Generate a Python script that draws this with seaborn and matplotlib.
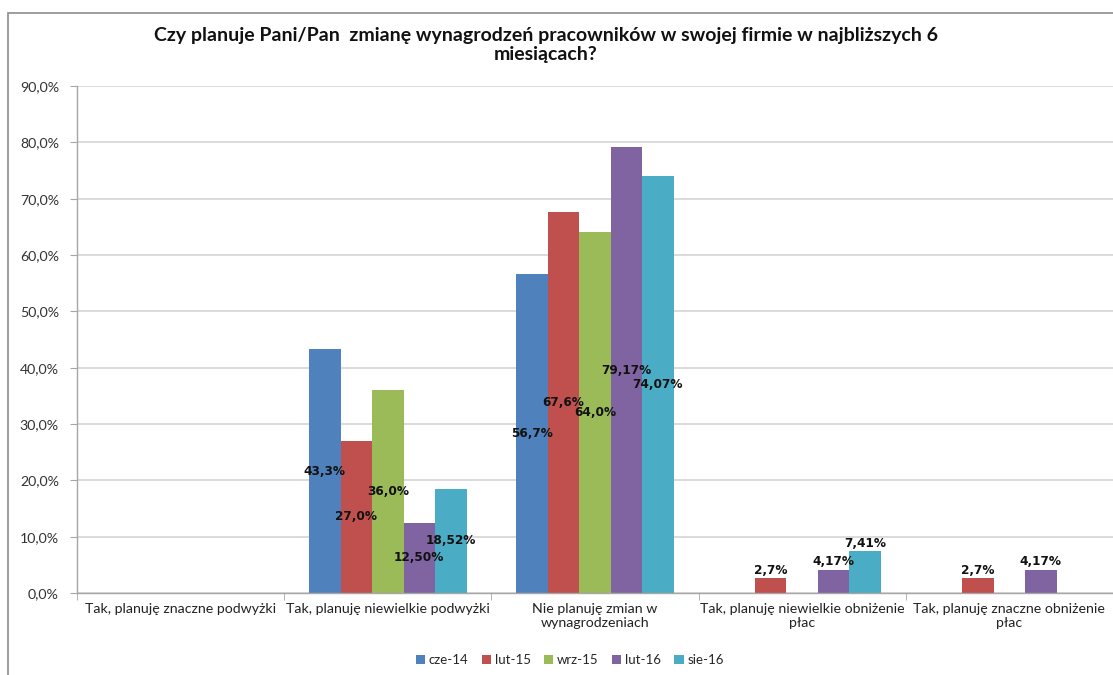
import pandas as pd
import numpy as np
import matplotlib.pyplot as plt
import seaborn as sns
from matplotlib.patches import Rectangle

# dane z wykresu (w %)
kategorie = ["Tak, planuję znaczne podwyżki",
             "Tak, planuję niewielkie podwyżki",
             "Nie planuję zmian w\nwynagrodzeniach",
             "Tak, planuję niewielkie obniżenie\npłac",
             "Tak, planuję znaczne obniżenie\npłac"]
okresy = ["cze-14", "lut-15", "wrz-15", "lut-16", "sie-16"]
cze_14 = [0, 43.3, 56.7, 0, 0]
lut_15 = [0, 27.0, 67.6, 2.7, 2.7]
wrz_15 = [0, 36.0, 64.0, 0, 0]
lut_16 = [0, 12.50, 79.17, 4.17, 4.17]
sie_16 = [0, 18.52, 74.07, 7.41, 0]
miejsca_dziesietne = [1, 1, 1, 2, 2]
kolory = ["#4F81BD", "#C0504D", "#9BBB59", "#8064A2", "#4BACC6"]

tytul = ("Czy planuje Pani/Pan  zmianę wynagrodzeń pracowników w swojej firmie w najbliższych 6\n"
         "miesiącach?")

df = pd.DataFrame({
    "Kategoria": kategorie * len(okresy),
    "Okres": np.repeat(okresy, len(kategorie)),
    "Wartosc": cze_14 + lut_15 + wrz_15 + lut_16 + sie_16,
})

sns.set_style("white")
plt.rcParams['font.family'] = ['Lato', 'DejaVu Sans']

fig = plt.figure(figsize=(11.13, 6.75), dpi=100)
ax = fig.add_axes([77 / 1113, 1 - 593 / 675, 1 - 77 / 1113, (593 - 86) / 675])

sns.barplot(data=df, x="Kategoria", y="Wartosc", hue="Okres", order=kategorie,
            hue_order=okresy, palette=kolory, width=0.76, saturation=1,
            linewidth=0, errorbar=None, ax=ax)

# etykiety danych: srodek slupka, male wartosci nad slupkiem
for cont, dec in zip(ax.containers, miejsca_dziesietne):
    for bar in cont:
        h = bar.get_height()
        if not h:
            continue
        txt = f"{h:.{dec}f}%".replace(".", ",")
        x = bar.get_x() + bar.get_width() / 2
        if h < 10:
            ax.text(x, h + 0.2, txt, ha="center", va="bottom", fontsize=8.7,
                    fontweight="bold", family="DejaVu Sans", color="#111111")
        else:
            ax.text(x, h / 2, txt, ha="center", va="center", fontsize=8.7,
                    fontweight="bold", family="DejaVu Sans", color="#111111")

ax.set_xlim(-0.5, 4.5)
ax.set_ylim(0, 90)
ax.set_yticks(range(0, 91, 10))
ax.set_yticklabels([f"{v:.1f}%".replace(".", ",") for v in range(0, 91, 10)])
ax.set_xticks(range(len(kategorie)))
ax.set_xticklabels(kategorie)
ax.set_xticks(np.arange(-0.5, 5, 1), minor=True)
ax.set_xlabel("")
ax.set_ylabel("")

ax.tick_params(axis="x", which="major", length=0, pad=7, labelsize=10.2, labelcolor="#222222")
ax.tick_params(axis="x", which="minor", bottom=True, length=5, color="#a6a6a6", direction="out")
ax.tick_params(axis="y", left=True, length=5, color="#a6a6a6", direction="out",
               labelsize=10.2, labelcolor="#333333", pad=8)

ax.yaxis.grid(True, color="#d4d4d4", linewidth=1.2)
ax.set_axisbelow(True)
for s in ["top", "right"]:
    ax.spines[s].set_visible(False)
for s in ["left", "bottom"]:
    ax.spines[s].set_color("#a6a6a6")
    ax.spines[s].set_linewidth(1.0)

handles, labels = ax.get_legend_handles_labels()
ax.get_legend().remove()
fig.legend(handles, labels, loc="center", bbox_to_anchor=(0.512, 1 - 660 / 675), ncol=5,
           frameon=False, fontsize=9.5, handlelength=0.7, handleheight=0.7,
           handletextpad=0.3, columnspacing=1.0)

fig.text(0.4906, 1 - 45 / 675, tytul, ha="center", va="center", fontsize=14,
         fontweight="bold", linespacing=1.2, color="#111111")

# ramka wykresu
fig.patches.append(Rectangle((8 / 1113, -0.1), 1.2, 1.1 - 12.5 / 675, transform=fig.transFigure,
                             fill=False, edgecolor="#8c8c8c", linewidth=1.2))

fig.savefig("out.png", dpi=100)
